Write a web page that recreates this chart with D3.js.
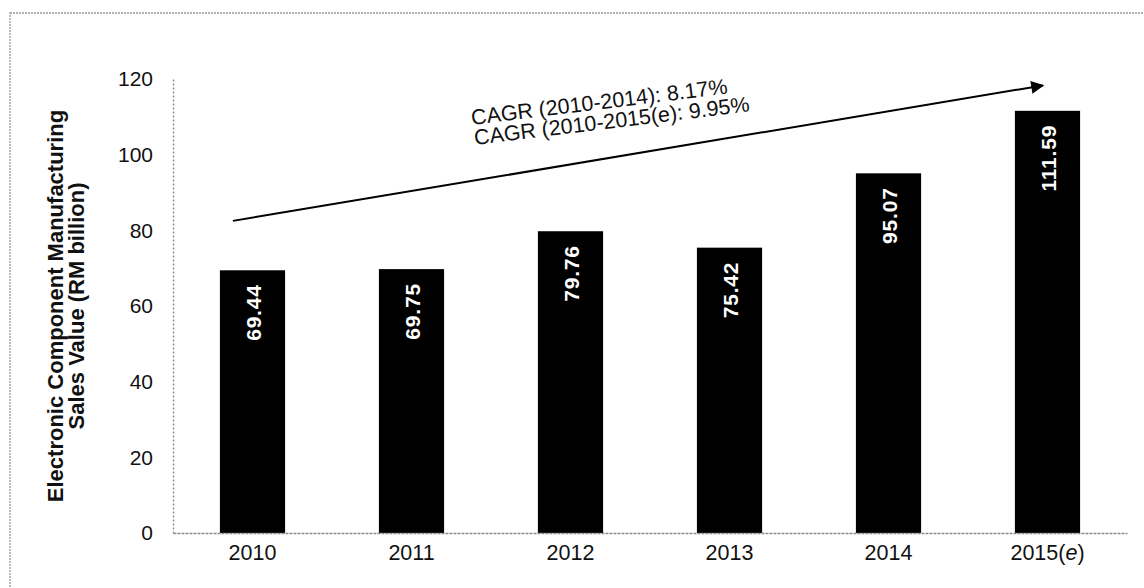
<!DOCTYPE html>
<html>
<head>
<meta charset="utf-8">
<script src="https://cdn.jsdelivr.net/npm/d3@7/dist/d3.min.js"></script>
<style>
  html, body { margin: 0; padding: 0; background: #fff; }
  svg { display: block; font-family: "Liberation Sans", Arial, sans-serif; }
</style>
</head>
<body>
<svg id="chart" width="1144" height="588"></svg>
<script>
const categories = ["2010", "2011", "2012", "2013", "2014", "2015(e)"];
const values = [69.44, 69.75, 79.76, 75.42, 95.07, 111.59];
const valueLabels = ["69.44", "69.75", "79.76", "75.42", "95.07", "111.59"];
const yTicks = [0, 20, 40, 60, 80, 100, 120];
const yTitleLines = ["Electronic Component Manufacturing", "Sales Value (RM billion)"];
const cagrLines = ["CAGR (2010-2014): 8.17%", "CAGR (2010-2015(e): 9.95%"];
// arrow endpoints: category, position within band (0..1), value on y scale
const arrowPoints = [
  { cat: "2010", frac: 0.2, value: 82.5 },
  { cat: "2015(e)", frac: 0.43, value: 118.3 }
];

const svg = d3.select("#chart");

// outer frame
svg.append("rect")
  .attr("x", 10).attr("y", 13).attr("width", 1160).attr("height", 600)
  .attr("fill", "none").attr("stroke", "#999").attr("stroke-width", 1.3)
  .attr("stroke-dasharray", "2,1");

const plot = { left: 173, right: 1127, top: 79, bottom: 533 };

const x = d3.scaleBand()
  .domain(categories)
  .range([plot.left, plot.right])
  .paddingInner(0.59)
  .paddingOuter(0.295);

const y = d3.scaleLinear()
  .domain([0, 120])
  .range([plot.bottom, plot.top]);

// bars
svg.append("g").selectAll("rect")
  .data(categories)
  .join("rect")
  .attr("x", d => x(d))
  .attr("width", x.bandwidth())
  .attr("y", (d, i) => y(values[i]))
  .attr("height", (d, i) => y(0) - y(values[i]))
  .attr("fill", "#000");

// value labels
svg.append("g").selectAll("text")
  .data(categories)
  .join("text")
  .attr("transform", (d, i) => `translate(${x(d) + x.bandwidth() / 2 + 1},${y(values[i]) + 14}) rotate(-90)`)
  .attr("text-anchor", "end")
  .attr("dy", "0.36em")
  .attr("fill", "#fff")
  .attr("font-weight", "bold")
  .attr("font-size", 21)
  .attr("letter-spacing", 0.8)
  .text((d, i) => valueLabels[i]);

// y axis
const yAxis = svg.append("g")
  .attr("transform", `translate(${plot.left},0)`)
  .call(d3.axisLeft(y).tickValues(yTicks).tickSize(0).tickPadding(20).tickFormat(d3.format("d")));
yAxis.select(".domain")
  .attr("stroke", "#8a8a8a").attr("stroke-width", 1.3).attr("stroke-dasharray", "2,2");
yAxis.selectAll("text")
  .attr("font-size", 21)
  .attr("fill", "#111").attr("font-family", "Liberation Sans, Arial, sans-serif");

// x axis
const xAxis = svg.append("g")
  .attr("transform", `translate(0,${plot.bottom})`)
  .call(d3.axisBottom(x).tickSize(0).tickPadding(12));
xAxis.select(".domain")
  .attr("stroke", "#8a8a8a").attr("stroke-width", 1.3).attr("stroke-dasharray", "3,1");
xAxis.selectAll("text")
  .attr("font-size", 21.5)
  .attr("fill", "#111").attr("font-family", "Liberation Sans, Arial, sans-serif")
  .each(function(d) {
    const m = d.match(/^(.*)\((e)\)$/);
    if (m) {
      const t = d3.select(this).text(null);
      t.append("tspan").text(m[1] + "(");
      t.append("tspan").attr("font-style", "italic").text(m[2]);
      t.append("tspan").text(")");
    }
  });

// y axis title
const yTitle = svg.append("text")
  .attr("transform", `translate(0,${(plot.top + plot.bottom) / 2}) rotate(-90)`)
  .attr("text-anchor", "middle")
  .attr("font-weight", "bold")
  .attr("font-size", 22)
  .attr("fill", "#111");
yTitle.selectAll("tspan")
  .data(yTitleLines)
  .join("tspan")
  .attr("x", 0)
  .attr("y", (d, i) => 63 + i * 21)
  .text(d => d);

// arrow
const defs = svg.append("defs");
defs.append("marker")
  .attr("id", "arrowhead")
  .attr("viewBox", "0 0 10 10")
  .attr("refX", 9).attr("refY", 5)
  .attr("markerWidth", 8).attr("markerHeight", 6.5)
  .attr("markerUnits", "strokeWidth")
  .attr("orient", "auto")
  .append("path")
  .attr("d", "M0,0 L10,5 L0,10 Z")
  .attr("fill", "#000");

const ax = p => x(p.cat) + p.frac * x.bandwidth();
svg.append("line")
  .attr("x1", ax(arrowPoints[0])).attr("y1", y(arrowPoints[0].value))
  .attr("x2", ax(arrowPoints[1])).attr("y2", y(arrowPoints[1].value))
  .attr("stroke", "#000").attr("stroke-width", 2)
  .attr("marker-end", "url(#arrowhead)");

// CAGR annotation
const cagrStart = [{ x: 472, y: 125 }, { x: 475, y: 145 }];
svg.append("g").selectAll("text")
  .data(cagrLines)
  .join("text")
  .attr("transform", (d, i) => `translate(${cagrStart[i].x},${cagrStart[i].y}) rotate(-7)`)
  .attr("font-size", 21.5)
  .attr("fill", "#111")
  .text(d => d);
</script>
</body>
</html>
